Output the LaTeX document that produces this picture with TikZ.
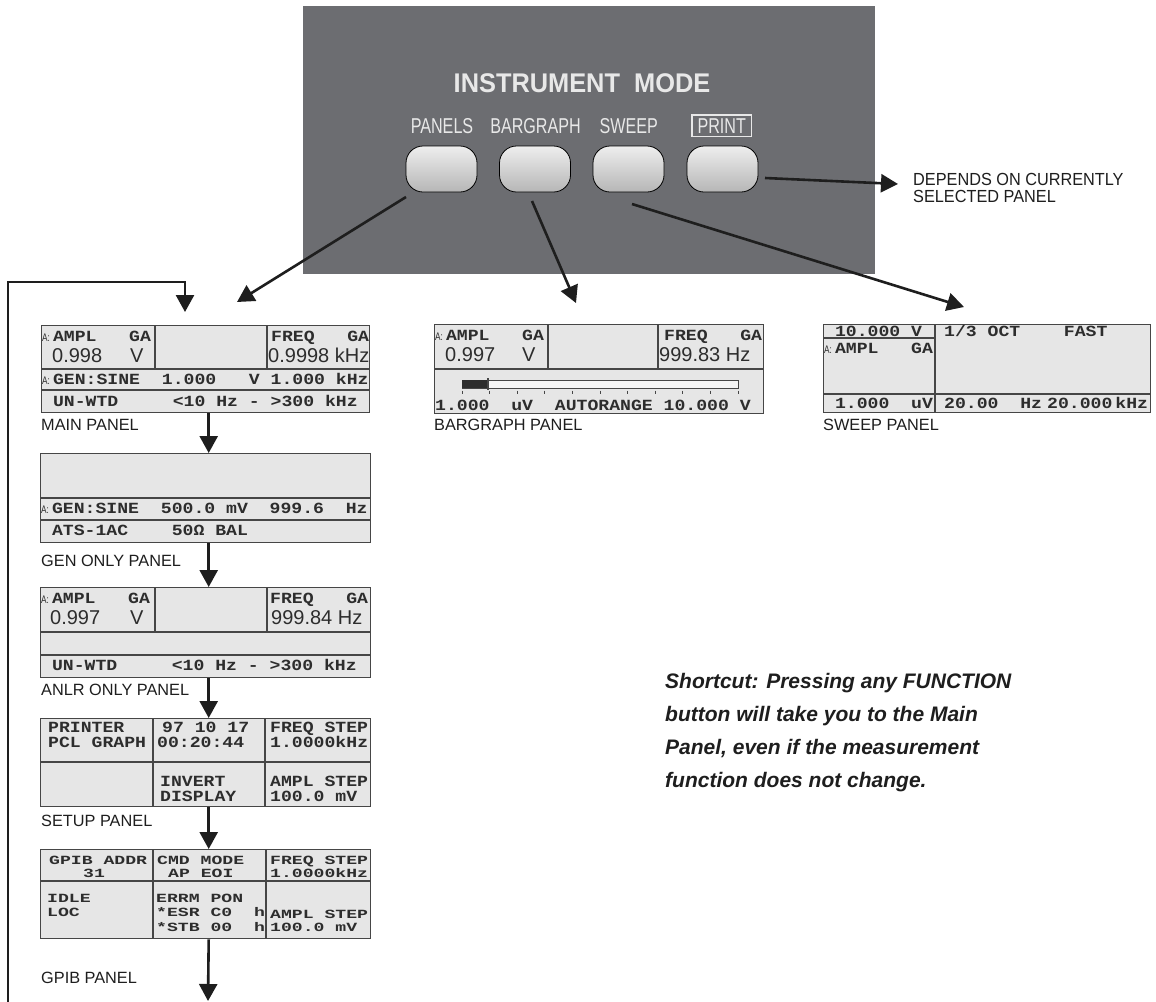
\documentclass[tikz,border=0pt]{standalone}
\usepackage{fontspec}
\setmainfont{Liberation Sans}
\newfontfamily\lcdf{Liberation Mono}[FakeStretch=1.17]
\newfontfamily\lcdsf{Liberation Mono}[FakeStretch=1.45]
\newfontfamily\narrowf{Liberation Sans}[FakeStretch=0.75]
\newfontfamily\titlef{Liberation Sans}[FakeStretch=0.94]
\newfontfamily\depf{Liberation Sans}[FakeStretch=0.93]
\usetikzlibrary{arrows.meta}
\definecolor{boxgray}{RGB}{108,109,113}
\definecolor{lcdfill}{RGB}{230,230,230}
\definecolor{lcdline}{RGB}{70,70,70}
\definecolor{lcdtext}{RGB}{45,45,45}
\definecolor{ink}{RGB}{30,30,30}
\definecolor{keytext}{RGB}{232,232,232}
\newcommand\lcdsetup{\def~{\hspace*{10.88bp}}}
\newcommand\apre{\makebox[10.88bp][l]{\narrowf\mdseries\fontsize{11bp}{11bp}\selectfont A:}}
\tikzset{
 lcd/.style={draw=lcdline, line width=1.4bp, fill=lcdfill, inner sep=0, anchor=north west},
 lcdrule/.style={draw=lcdline, line width=1.4bp},
 lt/.style={anchor=base west, inner sep=0, text=lcdtext, font=\lcdf\bfseries\fontsize{15.5bp}{15.5bp}\selectfont\lcdsetup},
 lts/.style={anchor=base west, inner sep=0, text=lcdtext, font=\lcdsf\bfseries\fontsize{12.5bp}{12.5bp}\selectfont\lcdsetup},
 big/.style={anchor=base west, inner sep=0, text=lcdtext, font=\fontsize{20bp}{20bp}\selectfont},
 lbl/.style={anchor=base west, inner sep=0, text=ink, font=\fontsize{16.3bp}{18bp}\selectfont},
 arr/.style={draw=ink, line width=2.6bp, -{Triangle[length=17bp,width=18bp]}},
 btn/.style={draw=black, line width=0.8bp, rounded corners=17bp, minimum width=71bp, minimum height=46bp, top color={rgb,255:red,238;green,238;blue,238}, bottom color={rgb,255:red,182;green,182;blue,182}},
 btnlabel/.style={text=keytext, font=\narrowf\fontsize{21.5bp}{21.5bp}\selectfont, anchor=base, inner sep=0},
}
\begin{document}
\begin{tikzpicture}[x=1bp,y=-1bp]
\useasboundingbox (0,0) rectangle (1156,1002);
\fill[white] (0,0) rectangle (1156,1002);

% ---------- instrument mode box ----------
\node[fill=boxgray, inner sep=0, anchor=north west, minimum width=572bp, minimum height=268bp] (instr) at (303,6) {};
\node[anchor=base, inner sep=0, text=keytext, font=\titlef\bfseries\fontsize{27bp}{27bp}\selectfont] (title) at (582,92.7) {INSTRUMENT\ \ MODE};
\node[btnlabel] (lpanels) at (442,133.3) {PANELS};
\node[btnlabel] (lbar) at (535.5,133.3) {BARGRAPH};
\node[btnlabel] (lsweep) at (628.7,133.3) {SWEEP};
\node[btnlabel, draw=keytext, line width=1.2bp, inner xsep=5.5bp, inner ysep=3.5bp] (lprint) at (721.7,133.3) {PRINT};
\node[btn] (bpanels) at (441.5,169) {};
\node[btn] (bbar) at (535,169) {};
\node[btn] (bsweep) at (628.5,169) {};
\node[btn] (bprint) at (722.5,169) {};

\node[anchor=north west, align=left, inner sep=0, text=ink, font=\depf\fontsize{17.5bp}{17bp}\selectfont] (depends) at (913,173.5) {DEPENDS ON CURRENTLY\\SELECTED PANEL};

% ---------- MAIN PANEL ----------
\begin{scope}[shift={(41,325)}]
\node[lcd, minimum width=328bp, minimum height=87bp] (main) at (0,0) {};
\draw[lcdrule] (0,44) -- (328,44) (0,65) -- (328,65) (114,0) -- (114,44) (226,0) -- (226,44);
\node[lt] (m1) at (1,16) {\apre AMPL~~~GA};
\node[lt] (m2) at (230,16) {FREQ~~~GA};
\node[big] (m3) at (11,37) {0.998};
\node[big] (m4) at (89,37) {V};
\node[big] (m5) at (227,37) {0.9998 kHz};
\node[lt] (m6) at (1,59) {\apre GEN:SINE~~1.000~~~V~1.000~kHz};
\node[lt] (m7) at (1,81) {~UN-WTD~~~~~<10~Hz~-~>300~kHz};
\end{scope}
\node[lbl] (lmain) at (41,430) {MAIN PANEL};

% ---------- BARGRAPH PANEL ----------
\begin{scope}[shift={(434,324)}]
\node[lcd, minimum width=329bp, minimum height=89bp] (bargraph) at (0,0) {};
\draw[lcdrule] (0,45) -- (329,45) (114,0) -- (114,45) (224,0) -- (224,45);
\node[lt] (b1) at (1,16) {\apre AMPL~~~GA};
\node[lt] (b2) at (230,16) {FREQ~~~GA};
\node[big] (b3) at (11,37) {0.997};
\node[big] (b4) at (88,37) {V};
\node[big] (b5) at (225,37) {999.83 Hz};
\draw[draw=lcdline, line width=1bp, fill=white!60!lcdfill] (28,56) rectangle (304,64);
\fill[lcdtext] (28,56) rectangle (54,64);
\draw[lcdline, line width=1.4bp] (54,54) -- (54,66);
\foreach \i in {0,...,10} {\draw[lcdline, line width=1bp] (28+27.6*\i,66.5) -- (28+27.6*\i,70);}
\node[lt] (b6) at (1,86) {1.000~~uV~~AUTORANGE~10.000~V};
\end{scope}
\node[lbl] (lbargraph) at (434,430) {BARGRAPH PANEL};

% ---------- SWEEP PANEL ----------
\begin{scope}[shift={(823,324)}]
\node[lcd, minimum width=327bp, minimum height=88bp] (sweep) at (0,0) {};
\draw[lcdrule] (112,0) -- (112,88) (0,14) -- (112,14) (0,70) -- (327,70);
\node[lt] (s1) at (1,12.5) {~10.000~V};
\node[lt] (s2) at (121,12.5) {1/3~OCT~~~~FAST};
\node[lt] (s3) at (1,29) {\apre AMPL~~~GA};
\node[lt] (s4) at (1,84) {~1.000~~uV};
\node[lt] (s5) at (121,84) {20.00~~Hz\hspace{5bp}20.000\hspace{3bp}kHz};
\end{scope}
\node[lbl] (lsweep) at (823,430) {SWEEP PANEL};

% ---------- GEN ONLY PANEL ----------
\begin{scope}[shift={(40,453)}]
\node[lcd, minimum width=330bp, minimum height=89bp] (gen) at (0,0) {};
\draw[lcdrule] (0,45) -- (330,45) (0,67) -- (330,67);
\node[lt] (g1) at (1,60.5) {\apre GEN:SINE~~500.0~mV~~999.6~~Hz};
\node[lt] (g2) at (1,82.5) {~ATS-1AC~~~~50Ω~BAL};
\end{scope}
\node[lbl] (lgen) at (41,566) {GEN ONLY PANEL};

% ---------- ANLR ONLY PANEL ----------
\begin{scope}[shift={(40,587)}]
\node[lcd, minimum width=330bp, minimum height=90bp] (anlr) at (0,0) {};
\draw[lcdrule] (0,45) -- (330,45) (0,68) -- (330,68) (115,0) -- (115,45) (227,0) -- (227,45);
\node[lt] (a1) at (1,16) {\apre AMPL~~~GA};
\node[lt] (a2) at (230,16) {FREQ~~~GA};
\node[big] (a3) at (10,37.5) {0.997};
\node[big] (a4) at (90,37.5) {V};
\node[big] (a5) at (231,37.5) {999.84 Hz};
\node[lt] (a6) at (1,83.5) {~UN-WTD~~~~~<10~Hz~-~>300~kHz};
\end{scope}
\node[lbl] (lanlr) at (41,695) {ANLR ONLY PANEL};

% ---------- SETUP PANEL ----------
\begin{scope}[shift={(40,718)}]
\node[lcd, minimum width=330bp, minimum height=88bp] (setup) at (0,0) {};
\draw[lcdrule] (0,44) -- (330,44) (113,0) -- (113,88) (225,0) -- (225,88);
\node[lt] (u1) at (8,14.5) {PRINTER};
\node[lt] (u2) at (8,29.5) {PCL~GRAPH};
\node[lt] (u3) at (122,14.5) {97~10~17};
\node[lt] (u4) at (117,29.5) {00:20:44};
\node[lt] (u5) at (230,14.5) {FREQ~STEP};
\node[lt] (u6) at (230,29.5) {1.0000kHz};
\node[lt] (u7) at (120,68.5) {INVERT};
\node[lt] (u8) at (120,83.5) {DISPLAY};
\node[lt] (u9) at (230,68.5) {AMPL~STEP};
\node[lt] (u10) at (230,83.5) {100.0~mV};
\end{scope}
\node[lbl] (lsetup) at (41,826) {SETUP PANEL};

% ---------- GPIB PANEL ----------
\begin{scope}[shift={(40,849)}]
\node[lcd, minimum width=330bp, minimum height=89bp] (gpib) at (0,0) {};
\draw[lcdrule] (0,32) -- (330,32) (113,0) -- (113,89) (226,0) -- (226,89);
\node[lts] (p1) at (9,15.5) {GPIB~ADDR};
\node[lts] (p2) at (43,28.5) {31};
\node[lts] (p3) at (117,15.5) {CMD~MODE};
\node[lts] (p4) at (128,28.5) {AP~EOI};
\node[lts] (p5) at (230,15.5) {FREQ~STEP};
\node[lts] (p6) at (230,28.5) {1.0000kHz};
\node[lts] (p7) at (7,53) {IDLE};
\node[lts] (p8) at (7,67.5) {LOC};
\node[lts] (p9) at (116,53) {ERRM~PON};
\node[lts] (p10) at (116,67.5) {*ESR~C0~~h};
\node[lts] (p11) at (116,82) {*STB~00~~h};
\node[lts] (p12) at (230,69) {AMPL~STEP};
\node[lts] (p13) at (230,82) {100.0~mV};
\end{scope}
\node[lbl] (lgpib) at (41,983) {GPIB PANEL};

% ---------- shortcut note ----------
\node[anchor=north west, align=left, inner sep=0, text=ink, font=\bfseries\itshape\fontsize{21bp}{33bp}\selectfont] (shortcut) at (665,672.7) {Shortcut: Pressing any FUNCTION\\button will take you to the Main\\Panel, even if the measurement\\function does not change.};

% ---------- connectors ----------
\coordinate (tmain) at (237,302);
\coordinate (tbar) at (576,303);
\coordinate (tsweep) at (964,307);
\coordinate (tprint) at (898,184);
\draw[arr] ([xshift=-35.5bp,yshift=-28bp]bpanels.center) -- (tmain);
\draw[arr] ([xshift=-3bp,yshift=-32bp]bbar.center) -- (tbar);
\draw[arr] ([xshift=3.5bp,yshift=-35bp]bsweep.center) -- (tsweep);
\draw[arr] ([xshift=42.5bp,yshift=-9bp]bprint.center) -- (tprint);

\draw[arr] ([xshift=3bp]main.south) -- ([xshift=3bp]main.south |- gen.north);
\draw[arr] ([xshift=3bp]gen.south) -- ([xshift=3bp]gen.south |- anlr.north);
\draw[arr] ([xshift=3bp]anlr.south) -- ([xshift=3bp]anlr.south |- setup.north);
\draw[arr] ([xshift=3bp]setup.south) -- ([xshift=3bp]setup.south |- gpib.north);
\coordinate (gpibout) at (208,1001);
\draw[arr] ([xshift=3bp]gpib.south) -- (gpibout);

\coordinate (loopstart) at (8,1003);
\coordinate (loopcorner) at (185,282);
\coordinate (loopend) at (185,312);
\draw[arr, line join=miter] (loopstart) |- (loopcorner) -- (loopend);
\end{tikzpicture}
\end{document}
